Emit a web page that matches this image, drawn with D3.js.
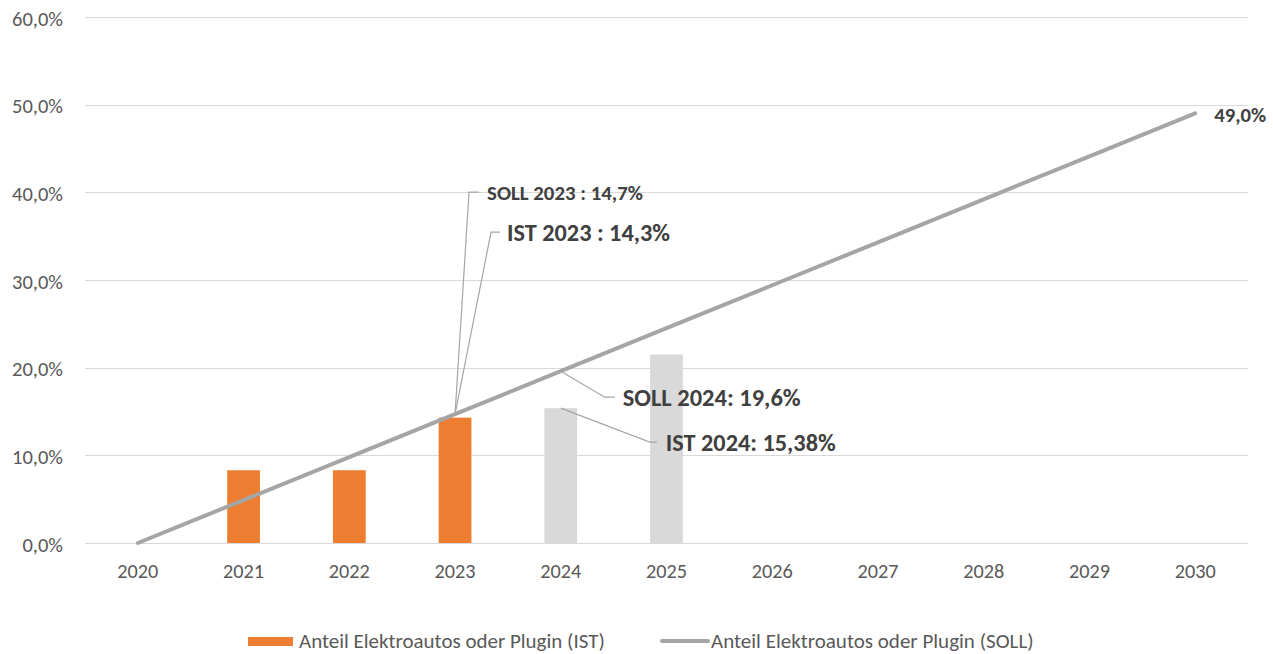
<!DOCTYPE html>
<html>
<head>
<meta charset="utf-8">
<script src="https://cdn.jsdelivr.net/npm/d3@7"></script>
<style>
  html, body { margin: 0; padding: 0; background: #fff; }
  svg { display: block; font-family: Carlito, Lato, "Open Sans", sans-serif; }
</style>
</head>
<body>
<svg id="chart" width="1273" height="654"></svg>
<script>
// ---- data ----
const years = ["2020","2021","2022","2023","2024","2025","2026","2027","2028","2029","2030"];
const istValues = [null, 0.083, 0.083, 0.143, 0.1538, 0.215, null, null, null, null, null];
const istIsActual = [true, true, true, true, false, false, false, false, false, false, false];
const sollValues = [0.0, 0.049, 0.098, 0.147, 0.196, 0.245, 0.294, 0.343, 0.392, 0.441, 0.49];
const yTicks = [0, 0.1, 0.2, 0.3, 0.4, 0.5, 0.6];
const legendLabels = ["Anteil Elektroautos oder Plugin (IST)", "Anteil Elektroautos oder Plugin (SOLL)"];
const annotationTexts = ["SOLL 2023 : 14,7%", "IST 2023 : 14,3%", "SOLL 2024: 19,6%", "IST 2024: 15,38%"];
const annotationYears = ["2023", "2023", "2024", "2024"];
const annotationValues = [0.147, 0.147, 0.196, 0.1538];
const endLabel = "49,0%";

(function () {
const svg = d3.select("#chart");
const mLeft = 85, mRight = 1248, mTop = 17, mBottom = 543;
const x = d3.scaleBand().domain(years).range([mLeft, mRight]).padding(0);
const y = d3.scaleLinear().domain([0, 0.6]).range([mBottom, mTop]);
const fmtPct = v => d3.format(".1f")(v * 100).replace(".", ",") + "%";
const textCol = "#595959";
const annCol = "#404040";

// scale a text's font so that its rendered width matches the reference width
function fitFont(sel, target) {
  const node = sel.node();
  const w = node.getComputedTextLength();
  const fs = parseFloat(sel.style("font-size"));
  const nf = fs * target / w;
  sel.style("font-size", nf + "px");
  return nf;
}

// layout of annotations (leader elbow offsets, target text widths)
const annLayout = [
  { dx: 14, dy: -222, seg: 10, gap: 18, w: 156 },
  { dx: 36, dy: -182, seg: 9,  gap: 16, w: 163 },
  { dx: 44, dy: 26,   seg: 10, gap: 18, w: 178 },
  { dx: 89, dy: 34,   seg: 7,  gap: 16, w: 170 }
];

// gridlines
svg.append("g").selectAll("line").data(yTicks).join("line")
  .attr("x1", mLeft).attr("x2", mRight)
  .attr("y1", d => Math.round(y(d)) + 0.5).attr("y2", d => Math.round(y(d)) + 0.5)
  .attr("stroke", "#d9d9d9").attr("stroke-width", 1);

// y axis labels
const yAxis = d3.axisLeft(y).tickValues(yTicks).tickFormat(fmtPct).tickSize(0).tickPadding(22);
const gy = svg.append("g").attr("transform", `translate(${mLeft},0)`).call(yAxis);
gy.attr("font-family", null).attr("font-size", null);
gy.select(".domain").remove();
gy.selectAll("text").attr("fill", textCol).attr("dy", null)
  .attr("dominant-baseline", "central").attr("y", 1).style("font-size", "17px");
const yfs = fitFont(gy.selectAll("text").filter(d => d === 0.6), 51);
gy.selectAll("text").style("font-size", yfs + "px");

// x axis labels
const xAxis = d3.axisBottom(x).tickSize(0);
const gx = svg.append("g").attr("transform", `translate(0,${mBottom})`).call(xAxis);
gx.attr("font-family", null).attr("font-size", null);
gx.select(".domain").remove();
gx.selectAll("text").attr("fill", textCol).attr("dy", null)
  .attr("dominant-baseline", "central").attr("y", 28).style("font-size", "17px");
const xfs = fitFont(gx.selectAll("text").filter(d => d === "2020"), 41);
gx.selectAll("text").style("font-size", xfs + "px");

// bars
const barW = x.bandwidth() * 0.31;
const barData = years.map((yr, i) => ({ yr, v: istValues[i], actual: istIsActual[i] })).filter(d => d.v != null);
svg.append("g").selectAll("rect").data(barData).join("rect")
  .attr("x", d => x(d.yr) + x.bandwidth() / 2 - barW / 2)
  .attr("width", barW)
  .attr("y", d => y(d.v))
  .attr("height", d => y(0) - y(d.v))
  .attr("fill", d => d.actual ? "#ED7D31" : "#D9D9D9");

// SOLL line
const line = d3.line().x((d, i) => x(years[i]) + x.bandwidth() / 2).y(d => y(d));
svg.append("path").datum(sollValues)
  .attr("d", line).attr("fill", "none")
  .attr("stroke", "#A5A5A5").attr("stroke-width", 4).attr("stroke-linecap", "round");

// end label
const endT = svg.append("text")
  .attr("x", x("2030") + x.bandwidth() / 2 + 19)
  .attr("y", y(sollValues[sollValues.length - 1]) + 2)
  .attr("dominant-baseline", "central")
  .attr("fill", annCol).attr("font-weight", "bold").style("font-size", "18px")
  .text(endLabel);
fitFont(endT, 52);

// annotations with leader lines
const ann = svg.append("g");
annotationTexts.forEach((txt, i) => {
  const L = annLayout[i];
  const cx = x(annotationYears[i]) + x.bandwidth() / 2;
  const cy = y(annotationValues[i]);
  const lx = cx + L.dx, ly = cy + L.dy;
  ann.append("polyline")
    .attr("points", `${cx},${cy} ${lx},${ly} ${lx + L.seg},${ly}`)
    .attr("fill", "none").attr("stroke", "#A5A5A5").attr("stroke-width", 1.2);
  const t = ann.append("text")
    .attr("x", lx + L.gap).attr("y", ly + 1)
    .attr("dominant-baseline", "central")
    .attr("fill", annCol).attr("font-weight", "bold").style("font-size", "20px")
    .text(txt);
  fitFont(t, L.w);
});

// legend
const lg = svg.append("g");
lg.append("rect").attr("x", 248).attr("y", 637).attr("width", 45).attr("height", 9).attr("fill", "#ED7D31");
const l1 = lg.append("text").attr("x", 299).attr("y", 641).attr("dominant-baseline", "central")
  .attr("fill", textCol).style("font-size", "17px").text(legendLabels[0]);
fitFont(l1, 306);
lg.append("line").attr("x1", 662).attr("x2", 708).attr("y1", 641).attr("y2", 641)
  .attr("stroke", "#A5A5A5").attr("stroke-width", 4).attr("stroke-linecap", "round");
const l2 = lg.append("text").attr("x", 711).attr("y", 641).attr("dominant-baseline", "central")
  .attr("fill", textCol).style("font-size", "17px").text(legendLabels[1]);
fitFont(l2, 323);
})();
</script>
</body>
</html>
